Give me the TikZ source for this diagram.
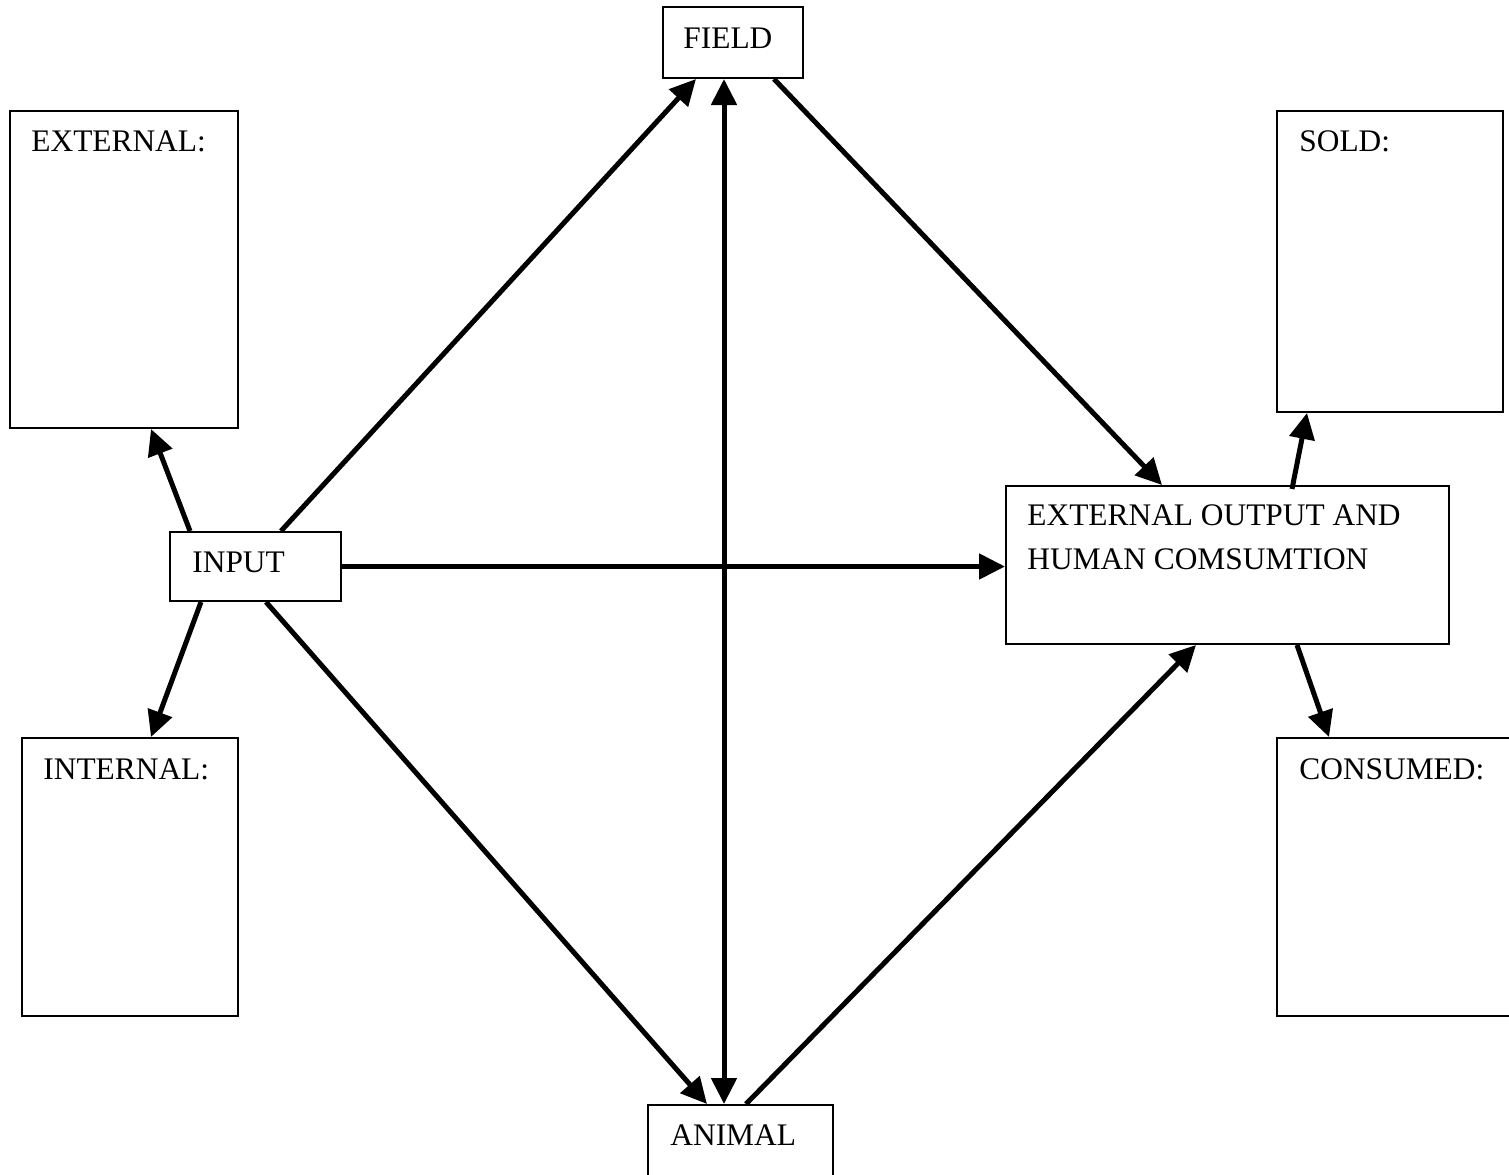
\documentclass[tikz,border=0pt]{standalone}
\usepackage{fontspec}
\setmainfont{Liberation Serif}
\usetikzlibrary{arrows.meta,calc}
\tikzset{
  boxnode/.style={draw, line width=1pt, inner sep=0pt, rectangle},
  lbl/.style={anchor=base west, inner sep=0pt, font=\fontsize{15.7}{22}\selectfont},
  arr/.style={line width=2.5pt, -{Triangle[length=13pt,width=12.5pt]}},
  arrtwo/.style={line width=2.5pt, {Triangle[length=13pt,width=12.5pt]}-{Triangle[length=13pt,width=12.5pt]}}
}
\begin{document}
\begin{tikzpicture}[x=0.5pt,y=-0.5pt]
\useasboundingbox (0,0) rectangle (1509,1174);
% boxes
\node[boxnode, minimum width=70pt, minimum height=35.5pt] (field) at (733,42.5) {};
\node[boxnode, minimum width=114pt, minimum height=158.5pt] (ext) at (124,269.5) {};
\node[boxnode, minimum width=113pt, minimum height=150.5pt] (sold) at (1390,261.5) {};
\node[boxnode, minimum width=85.5pt, minimum height=34.5pt] (input) at (255.5,566.5) {};
\node[boxnode, minimum width=221.5pt, minimum height=79pt] (eout) at (1227.5,565) {};
\node[boxnode, minimum width=108pt, minimum height=139pt] (int) at (130,877) {};
\node[boxnode, minimum width=126.5pt, minimum height=139pt] (cons) at (1403.5,877) {};
\node[boxnode, minimum width=92.5pt, minimum height=47.5pt] (animal) at (740.5,1152.5) {};
% labels
\node[lbl] (tfield) at (683,48) {FIELD};
\node[lbl] (text) at (31,151) {EXTERNAL:};
\node[lbl] (tsold) at (1299,151) {SOLD:};
\node[lbl] (tinput) at (192,572) {INPUT};
\node[lbl] (teouta) at (1027,525) {EXTERNAL OUTPUT AND};
\node[lbl] (teoutb) at (1027,569) {HUMAN COMSUMTION};
\node[lbl] (tint) at (43,779) {INTERNAL:};
\node[lbl] (tcons) at (1299,779) {CONSUMED:};
\node[lbl] (tanimal) at (670,1145) {ANIMAL};
% connectors
\draw[arr] ($(input.north west)+(21,0)$) -- ($(ext.south west)+(142,0)$);
\draw[arr] ($(input.south west)+(32,0)$) -- ($(int.north west)+(130,0)$);
\draw[arr] ($(input.north west)+(112,0)$) -- ($(field.south west)+(34,0)$);
\draw[arr] (input.east) -- (input.east -| eout.west);
\draw[arr] ($(input.south west)+(97,0)$) -- ($(animal.north west)+(60,0)$);
\draw[arrtwo] ($(field.south west)+(62,0)$) coordinate (fa) -- (fa |- animal.north);
\draw[arr] ($(field.south east)+(-30,0)$) -- ($(eout.north west)+(157,0)$);
\draw[arr] ($(animal.north west)+(99,0)$) -- ($(eout.south west)+(191,0)$);
\draw[arr] ($(eout.north west)+(287,4)$) -- ($(sold.south west)+(31,0)$);
\draw[arr] ($(eout.south west)+(292,0)$) -- ($(cons.north west)+(53,0)$);
\end{tikzpicture}
\end{document}
